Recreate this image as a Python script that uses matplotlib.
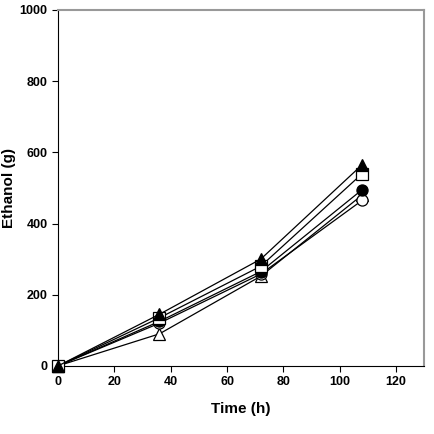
import numpy as np
from matplotlib import pyplot as plt

plt.rcParams['font.family'] = ['Liberation Sans', 'DejaVu Sans']
plt.rcParams['font.weight'] = 'bold'

# sampling times (h)
time = [0, 36, 72, 108]

# ethanol (g) for each condition
filled_circle = [0, 125, 265, 495]
open_circle = [0, 120, 258, 465]
filled_triangle = [0, 145, 300, 565]
open_triangle = [0, 90, 252, 480]
open_square = [0, 135, 280, 540]

series = [
    (open_triangle, '^', 'white'),
    (open_circle, 'o', 'white'),
    (filled_circle, 'o', 'black'),
    (open_square, 's', 'white'),
    (filled_triangle, '^', 'black'),
]

fig = plt.figure(figsize=(4.34, 4.34), dpi=100)
ax = fig.add_axes([0.134, 0.157, 0.843, 0.820])

for vals, mk, fc in series:
    ax.plot(time, vals, color='black', lw=0.9, marker=mk, markersize=8,
            markerfacecolor=fc, markeredgecolor='black', markeredgewidth=0.9,
            clip_on=False, zorder=3)

ax.set_xlim(0, 130)
ax.set_ylim(0, 1000)
ax.set_xticks([0, 20, 40, 60, 80, 100, 120])
ax.set_yticks([0, 200, 400, 600, 800, 1000])
ax.tick_params(direction='out', length=4, width=0.8, labelsize=9)
for lbl in ax.get_xticklabels() + ax.get_yticklabels():
    lbl.set_fontweight('bold')

ax.spines['top'].set_color('#999999')
ax.spines['right'].set_color('#999999')
ax.spines['top'].set_linewidth(1.5)
ax.spines['right'].set_linewidth(1.5)

ax.set_xlabel('Time (h)', fontsize=11, fontweight='bold', labelpad=10)
ax.set_ylabel('Ethanol (g)', fontsize=11, fontweight='bold', labelpad=6)
ax.yaxis.set_label_coords(-0.115, 0.5)

fig.savefig('out.png', dpi=100)
